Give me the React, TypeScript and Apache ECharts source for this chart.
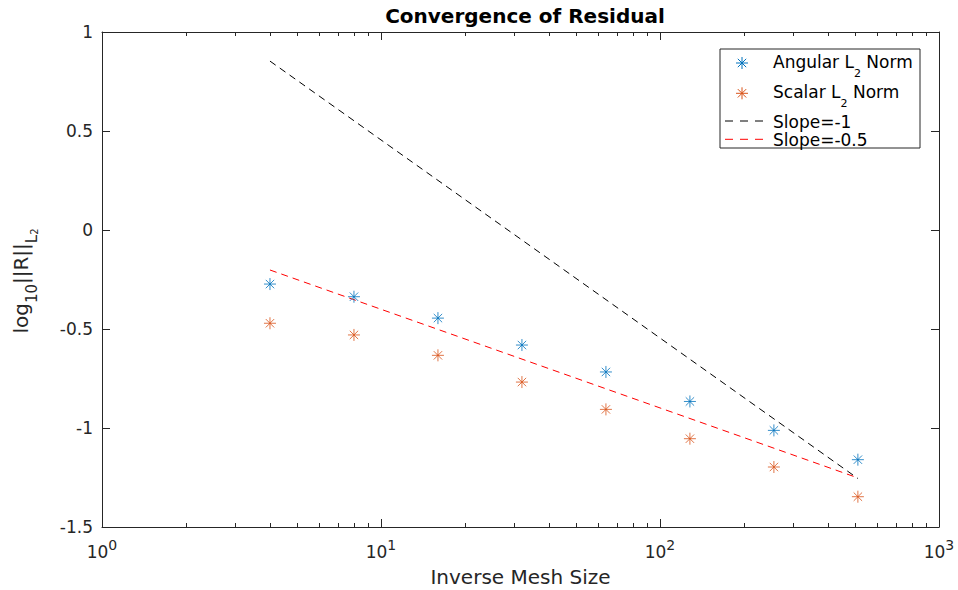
import React, { useEffect, useRef } from 'react';
import * as echarts from 'echarts';

const meshSizes = [4, 8, 16, 32, 64, 128, 256, 512];
const angularNorm = [-0.273, -0.337, -0.445, -0.581, -0.717, -0.866, -1.012, -1.16];
const scalarNorm = [-0.471, -0.53, -0.633, -0.768, -0.906, -1.054, -1.197, -1.347];
const slopeOneLine = [[4, 0.853], [512, -1.255]];
const slopeHalfLine = [[4, -0.202], [512, -1.252]];
const xMajorTicks = [1, 10, 100, 1000];
const xMinorTicks = [2, 3, 4, 5, 6, 7, 8, 9, 20, 30, 40, 50, 60, 70, 80, 90, 200, 300, 400, 500, 600, 700, 800, 900];
const yMin = -1.5;
const yMax = 1;
const yStep = 0.5;

const FONT = 'DejaVu Sans';
const AXIS = '#262626';
const BLUE = '#0072BD';
const ORANGE = '#D95319';
const ASTERISK = 'path://M10 0 L10 20 M0 10 L20 10 M3 3 L17 17 M3 17 L17 3';

function asteriskGraphic(cx: number, cy: number, color: string) {
  const r = 6;
  const d = 4.2;
  const st = { stroke: color, lineWidth: 1 };
  return {
    type: 'group',
    z: 101,
    children: [
      { type: 'line', z: 101, shape: { x1: cx, y1: cy - r, x2: cx, y2: cy + r }, style: st },
      { type: 'line', z: 101, shape: { x1: cx - r, y1: cy, x2: cx + r, y2: cy }, style: st },
      { type: 'line', z: 101, shape: { x1: cx - d, y1: cy - d, x2: cx + d, y2: cy + d }, style: st },
      { type: 'line', z: 101, shape: { x1: cx - d, y1: cy + d, x2: cx + d, y2: cy - d }, style: st },
    ],
  };
}

function xAxisDef(position: 'top' | 'bottom', ticks: number[], len: number, withLine: boolean, withLabels: boolean) {
  const ax: any = {
    type: 'log',
    logBase: 10,
    min: 1,
    max: 1000,
    position,
    axisLine: { show: withLine, onZero: false, lineStyle: { color: AXIS, width: 1 } },
    axisTick: { show: true, inside: true, length: len, customValues: ticks, lineStyle: { color: AXIS, width: 1 } },
    minorTick: { show: false },
    splitLine: { show: false },
    axisLabel: { show: false },
  };
  if (withLabels) {
    ax.axisLabel = {
      show: true,
      customValues: ticks,
      margin: 10.5,
      formatter: (v: number) => `{b|10}{p|${Math.round(Math.log10(v))}}`,
      rich: {
        b: { fontSize: 17, fontFamily: FONT, color: AXIS, verticalAlign: 'top', padding: [6, 0, 0, 0] },
        p: { fontSize: 14, fontFamily: FONT, color: AXIS, verticalAlign: 'top' },
      },
    };
    ax.name = 'Inverse Mesh Size';
    ax.nameLocation = 'middle';
    ax.nameGap = 40;
    ax.nameTextStyle = { fontSize: 20, lineHeight: 20, fontFamily: FONT, color: AXIS };
  }
  return ax;
}

function yAxisDef(position: 'left' | 'right', withLabels: boolean) {
  return {
    type: 'value',
    min: yMin,
    max: yMax,
    interval: yStep,
    position,
    axisLine: { show: true, onZero: false, lineStyle: { color: AXIS, width: 1 } },
    axisTick: { show: true, inside: true, length: 8, lineStyle: { color: AXIS, width: 1 } },
    splitLine: { show: false },
    axisLabel: withLabels
      ? { show: true, margin: 9, fontSize: 17, fontFamily: FONT, color: AXIS }
      : { show: false },
  };
}

export default function App() {
  const ref = useRef<HTMLDivElement>(null);
  useEffect(() => {
    if (!ref.current) return;
    const chart = echarts.init(ref.current, null, { renderer: 'svg' });
    const legendText = (x: number, y: number, text: string, va: string, rich?: any) => ({
      type: 'text',
      x,
      y,
      z: 101,
      style: {
        text,
        fill: '#000',
        fontSize: 17,
        fontFamily: FONT,
        align: 'left',
        verticalAlign: va,
        rich,
      },
    });
    const subRich = {
      a: { fontSize: 17, fontFamily: FONT, fill: '#000', verticalAlign: 'top' },
      s: { fontSize: 11, fontFamily: FONT, fill: '#000', verticalAlign: 'top', padding: [14.7, 0, 0, 0] },
    };
    const option: any = {
      animation: false,
      backgroundColor: '#ffffff',
      title: {
        text: 'Convergence of Residual',
        left: 520,
        top: 1,
        textAlign: 'center',
        textStyle: { fontSize: 20, lineHeight: 20, fontWeight: 'bold', color: '#000', fontFamily: FONT },
      },
      grid: { left: 102, right: 19, top: 32, bottom: 63, containLabel: false, outerBoundsMode: 'none' },
      xAxis: [
        xAxisDef('bottom', xMajorTicks, 8, true, true),
        xAxisDef('bottom', xMinorTicks, 4, false, false),
        xAxisDef('top', xMajorTicks, 8, true, false),
        xAxisDef('top', xMinorTicks, 4, false, false),
      ],
      yAxis: [yAxisDef('left', true), yAxisDef('right', false)],
      series: [
        {
          name: 'Angular L2 Norm',
          type: 'scatter',
          xAxisIndex: 0,
          yAxisIndex: 0,
          symbol: ASTERISK,
          symbolSize: 12,
          itemStyle: { color: BLUE, borderColor: BLUE, borderWidth: 1 },
          data: meshSizes.map((m, i) => [m, angularNorm[i]]),
          z: 5,
        },
        {
          name: 'Scalar L2 Norm',
          type: 'scatter',
          xAxisIndex: 0,
          yAxisIndex: 0,
          symbol: ASTERISK,
          symbolSize: 12,
          itemStyle: { color: ORANGE, borderColor: ORANGE, borderWidth: 1 },
          data: meshSizes.map((m, i) => [m, scalarNorm[i]]),
          z: 5,
        },
        {
          name: 'Slope=-1',
          type: 'line',
          xAxisIndex: 0,
          yAxisIndex: 0,
          symbol: 'none',
          lineStyle: { color: '#000000', width: 1, type: [7, 5] },
          data: slopeOneLine,
          z: 3,
        },
        {
          name: 'Slope=-0.5',
          type: 'line',
          xAxisIndex: 0,
          yAxisIndex: 0,
          symbol: 'none',
          lineStyle: { color: '#FF0000', width: 1, type: [7, 5] },
          data: slopeHalfLine,
          z: 3,
        },
      ],
      graphic: [
        {
          type: 'text',
          x: 11.3,
          y: 281,
          rotation: Math.PI / 2,
          style: {
            text: '{a|log}{s|10}{a|||R||}{s|L}{t|2}',
            fill: AXIS,
            align: 'center',
            verticalAlign: 'top',
            rich: {
              a: { fontSize: 20, fontFamily: FONT, fill: AXIS, verticalAlign: 'top' },
              s: { fontSize: 15, fontFamily: FONT, fill: AXIS, verticalAlign: 'top', padding: [13.7, 0, 0, 0] },
              t: { fontSize: 10, fontFamily: FONT, fill: AXIS, verticalAlign: 'top', padding: [18.7, 0, 0, 0] },
            },
          },
        },
        {
          type: 'rect',
          z: 100,
          shape: { x: 720, y: 49, width: 200, height: 99 },
          style: { fill: '#ffffff', stroke: AXIS, lineWidth: 1 },
        },
        asteriskGraphic(742, 63, BLUE),
        asteriskGraphic(742, 93.3, ORANGE),
        {
          type: 'line',
          z: 101,
          shape: { x1: 725, y1: 121, x2: 764, y2: 121 },
          style: { stroke: '#000000', lineWidth: 1, lineDash: [8, 7] },
        },
        {
          type: 'line',
          z: 101,
          shape: { x1: 725, y1: 139.3, x2: 764, y2: 139.3 },
          style: { stroke: '#FF0000', lineWidth: 1, lineDash: [8, 7] },
        },
        legendText(773, 53.3, '{a|Angular L}{s|2}{a| Norm}', 'top', subRich),
        legendText(773, 83.5, '{a|Scalar L}{s|2}{a| Norm}', 'top', subRich),
        legendText(773, 121.7, 'Slope=-1', 'middle'),
        legendText(773, 140.2, 'Slope=-0.5', 'middle'),
      ],
    };
    chart.setOption(option);
    return () => chart.dispose();
  }, []);
  return (
    <div
      ref={ref}
      style={{ position: 'fixed', left: 0, top: 0, width: 958, height: 590, background: '#fff' }}
    />
  );
}
